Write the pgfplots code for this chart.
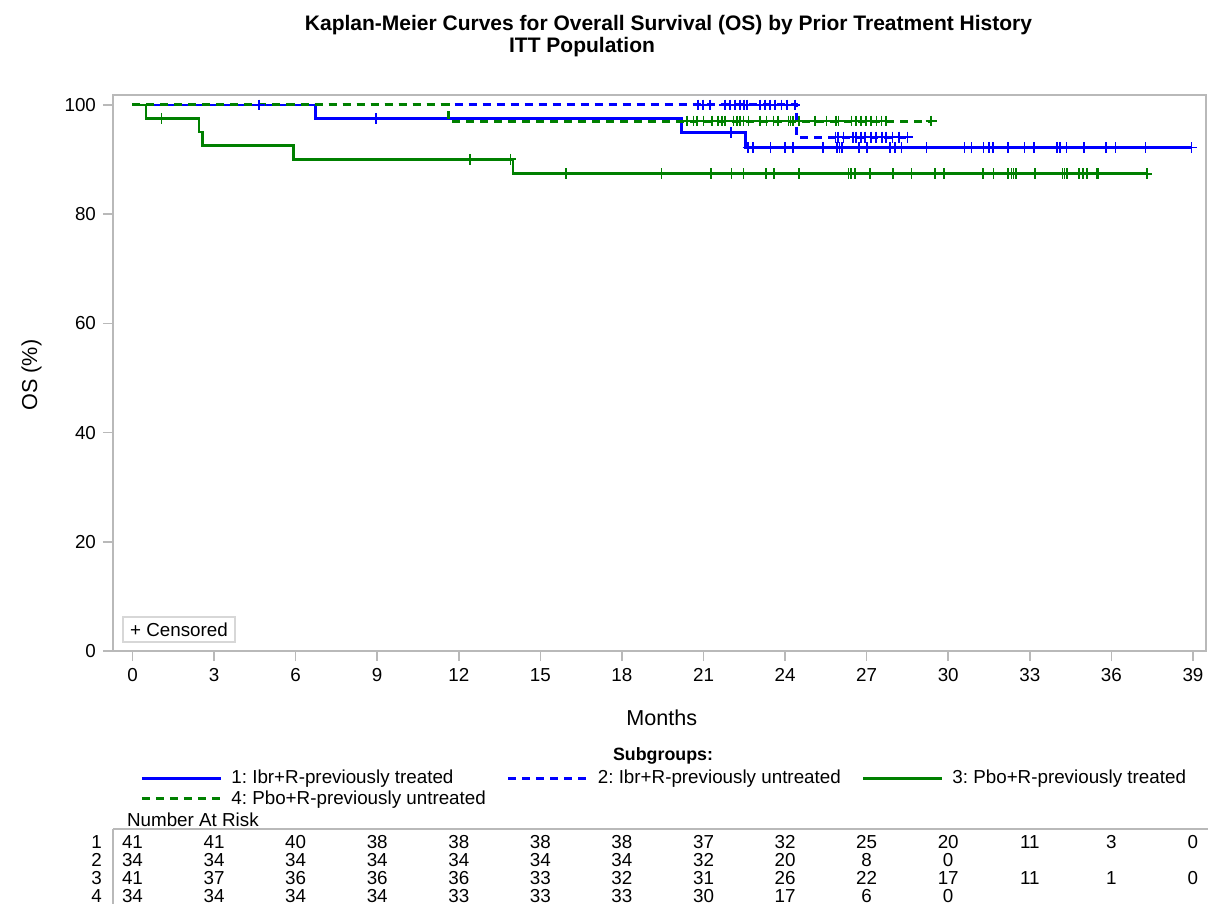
\documentclass[border=0pt]{standalone}
\usepackage{fontspec}
\setmainfont{Liberation Sans}
\usepackage{pgfplots}
\pgfplotsset{compat=1.18}
\definecolor{kmblue}{RGB}{0,0,255}
\definecolor{kmgreen}{RGB}{0,128,0}
\definecolor{framegray}{RGB}{185,185,185}
\definecolor{boxgray}{RGB}{215,215,215}
\newcommand{\fs}{\fontsize{9.4}{11}\selectfont}
\begin{document}
\frenchspacing
\begin{tikzpicture}
\path[use as bounding box] (0,0) rectangle (604pt,-452pt);
\begin{axis}[
  at={(56.5pt,-325.5pt)}, anchor=south west,
  scale only axis, width=546.5pt, height=278pt,
  xmin=-0.717, xmax=39.48, ymin=0, ymax=101.83,
  xtick={0,3,...,39}, ytick={0,20,...,100},
  axis line style={framegray, line width=0.8pt},
  tick style={framegray, line width=0.8pt},
  tick align=outside, major tick length=5pt, tick pos=left,
  ticklabel style={font=\fs, text=black},
  /pgf/number format/assume math mode=true,
  clip=false,
  xlabel={Months},
  xlabel style={at={(axis description cs:0.502,-0.1331)}, anchor=base, font=\fontsize{10.8}{13}\selectfont},
  ylabel={OS (\%)},
  ylabel style={at={(axis description cs:-0.0745,0.4964)}, anchor=center, rotate=0, font=\fontsize{10.8}{13}\selectfont},
  legend columns=3,
  legend cell align=left,
  legend image code/.code={\draw[#1] (0pt,0pt) -- (39.5pt,0pt);},
  legend style={at={(axis description cs:0.0247,-0.2096)}, anchor=north west, draw=none, fill=none, inner sep=0pt, font=\fs, nodes={inner xsep=2pt, inner ysep=1pt},
    /tikz/every odd column/.append style={column sep=2.5pt},
    /tikz/every even column/.append style={column sep=8.5pt},
    /tikz/column 4/.append style={column sep=5.5pt}},
  km/.style={const plot, line width=1.3pt},
  kmd/.style={const plot, line width=1.5pt, dash pattern=on 4pt off 3pt},
  cens/.style={only marks, mark=+, mark size=2.7pt, mark options={solid, line width=0.85pt}, forget plot},
]
% Group 1: Ibr+R previously treated
\addplot[km, kmblue] coordinates {(0,100) (6.72,97.56) (20.2,94.93) (22.55,92.22) (38.95,92.22)};
\addlegendentry{1: Ibr+R-previously treated}
% Group 2: Ibr+R previously untreated
\addplot[kmd, kmblue] coordinates {(0,100) (24.42,94.12) (28.5,94.12)};
\addlegendentry{2: Ibr+R-previously untreated}
% Group 3: Pbo+R previously treated
\addplot[km, kmgreen] coordinates {(0,100) (0.5,97.56) (2.44,95.06) (2.57,92.56) (5.93,90.06) (14.0,87.41) (37.3,87.41)};
\addlegendentry{3: Pbo+R-previously treated}
% Group 4: Pbo+R previously untreated
\addplot[kmd, kmgreen] coordinates {(0,100) (11.62,97.06) (29.4,97.06)};
\addlegendentry{4: Pbo+R-previously untreated}
% censored marks
\addplot[cens, kmblue] coordinates {(4.66,100) (8.95,97.56) (22.0,94.93)
 (22.64,92.22) (22.82,92.22) (23.46,92.22) (24.0,92.22) (24.3,92.22) (25.4,92.22) (25.9,92.22) (26.0,92.22) (26.1,92.22) (26.73,92.22) (27.0,92.22) (27.85,92.22) (28.05,92.22) (28.28,92.22) (29.2,92.22) (30.6,92.22) (30.85,92.22) (31.3,92.22) (31.5,92.22) (31.65,92.22) (32.2,92.22) (32.8,92.22) (33.15,92.22) (34.0,92.22) (34.1,92.22) (34.35,92.22) (35.0,92.22) (35.8,92.22) (36.15,92.22) (37.25,92.22) (38.95,92.22)};
\addplot[cens, kmblue] coordinates {(20.8,100) (20.97,100) (21.23,100) (21.78,100) (21.97,100) (22.15,100) (22.33,100) (22.48,100) (22.6,100) (23.07,100) (23.26,100) (23.44,100) (23.62,100) (23.87,100) (24.08,100) (24.36,100)
 (25.85,94.12) (25.95,94.12) (26.15,94.12) (26.5,94.12) (26.62,94.12) (26.78,94.12) (26.95,94.12) (27.15,94.12) (27.35,94.12) (27.57,94.12) (27.7,94.12) (27.95,94.12) (28.2,94.12) (28.5,94.12)};
\addplot[cens, kmgreen] coordinates {(1.07,97.56) (12.4,90.06) (13.9,90.06)
 (15.95,87.41) (19.46,87.41) (21.27,87.41) (22.03,87.41) (22.47,87.41) (23.3,87.41) (23.58,87.41) (24.5,87.41) (26.33,87.41) (26.42,87.41) (26.57,87.41) (27.13,87.41) (27.98,87.41) (28.65,87.41) (29.5,87.41) (29.84,87.41) (31.27,87.41) (31.66,87.41) (32.2,87.41) (32.33,87.41) (32.4,87.41) (32.48,87.41) (33.2,87.41) (34.2,87.41) (34.28,87.41) (34.36,87.41) (34.8,87.41) (34.95,87.41) (35.1,87.41) (35.12,87.41) (35.47,87.41) (35.5,87.41) (37.3,87.41)};
\addplot[cens, kmgreen] coordinates {(20.4,97.06) (20.63,97.06) (20.75,97.06) (21.0,97.06) (21.3,97.06) (21.54,97.06) (21.67,97.06) (21.79,97.06) (22.1,97.06) (22.22,97.06) (22.34,97.06) (22.47,97.06) (22.65,97.06) (23.07,97.06) (23.32,97.06) (23.57,97.06) (23.75,97.06) (24.12,97.06) (24.2,97.06) (24.3,97.06) (24.5,97.06) (25.1,97.06) (25.52,97.06) (25.88,97.06) (25.96,97.06) (26.44,97.06) (26.6,97.06) (26.8,97.06) (26.98,97.06) (27.15,97.06) (27.36,97.06) (27.55,97.06) (27.72,97.06) (29.37,97.06)};
\end{axis}
% titles
\node[font=\bfseries\fontsize{10.5}{12}\selectfont, anchor=base] at (334.25pt,-15.35pt) {Kaplan-Meier Curves for Overall Survival (OS) by Prior Treatment History};
\node[font=\bfseries\fontsize{10.5}{12}\selectfont, anchor=base] at (291pt,-26.35pt) {ITT Population};
\node[font=\bfseries\fontsize{8.9}{11}\selectfont, anchor=base] at (331.5pt,-380pt) {Subgroups:};
% censored box
\node[draw=boxgray, line width=0.6pt, minimum width=56pt, minimum height=12.5pt, inner sep=0pt, font=\fs] at (89.5pt,-314.75pt) {+ Censored};
% number at risk table
\node[font=\fs, anchor=base west] at (60pt,-413pt) {Number At Risk};
\draw[framegray, line width=0.8pt] (56.5pt,-414.5pt) -- (604pt,-414.5pt);
\draw[framegray, line width=0.8pt] (56.5pt,-414.5pt) -- (56.5pt,-452pt);
\foreach \r/\yb in {1/-424pt, 2/-433pt, 3/-442pt, 4/-451pt}
  \node[font=\fs, anchor=base east] at (54.5pt,\yb) {\r};
\foreach \v [count=\i from 0] in {41,41,40,38,38,38,38,37,32,25,20,11,3,0}
  \node[font=\fs, anchor=base] at ({66.25pt+40.785pt*\i},-424pt) {\v};
\foreach \v [count=\i from 0] in {34,34,34,34,34,34,34,32,20,8,0}
  \node[font=\fs, anchor=base] at ({66.25pt+40.785pt*\i},-433pt) {\v};
\foreach \v [count=\i from 0] in {41,37,36,36,36,33,32,31,26,22,17,11,1,0}
  \node[font=\fs, anchor=base] at ({66.25pt+40.785pt*\i},-442pt) {\v};
\foreach \v [count=\i from 0] in {34,34,34,34,33,33,33,30,17,6,0}
  \node[font=\fs, anchor=base] at ({66.25pt+40.785pt*\i},-451pt) {\v};
\end{tikzpicture}
\end{document}
